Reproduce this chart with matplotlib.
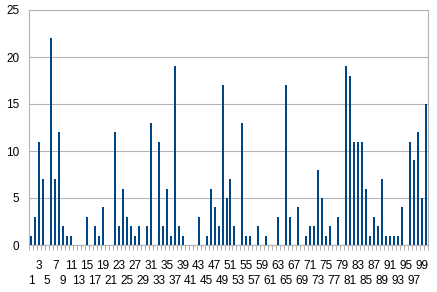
import matplotlib
matplotlib.use("Agg")
import matplotlib.pyplot as plt
import numpy as np

categories = list(range(1, 101))
values = [
    1, 3, 11, 7, 0, 22, 7, 12, 2, 1,        # 1-10
    1, 0, 0, 0, 3, 0, 2, 1, 4, 0,           # 11-20
    0, 12, 2, 6, 3, 2, 1, 2, 0, 2,          # 21-30
    13, 0, 11, 2, 6, 1, 19, 2, 1, 0,        # 31-40
    0, 0, 3, 0, 1, 6, 4, 2, 17, 5,          # 41-50
    7, 2, 0, 13, 1, 1, 0, 2, 0, 1,          # 51-60
    0, 0, 3, 0, 17, 3, 0, 4, 0, 1,          # 61-70
    2, 2, 8, 5, 1, 2, 0, 3, 0, 19,          # 71-80
    18, 11, 11, 11, 6, 1, 3, 2, 7, 1,       # 81-90
    1, 1, 1, 4, 0, 11, 9, 12, 5, 15,        # 91-100
]
x_labels = [str(c) if c % 2 == 1 else '' for c in categories]
y_ticks = [0, 5, 10, 15, 20, 25]

plt.rcParams['font.family'] = ['Liberation Sans', 'DejaVu Sans']
W, H = 437, 292
fig = plt.figure(figsize=(W / 100, H / 100), dpi=100)
ax = fig.add_axes([29.3 / W, 1 - 245 / H, (427.7 - 29.3) / W, (245 - 10) / H])

grid_c = '#b3b3b3'
ax.bar(categories, values, width=0.5, color='#004586', linewidth=0,
       antialiased=False, zorder=3)
ax.set_xlim(0.5, len(categories) + 0.5)
ax.set_ylim(y_ticks[0], y_ticks[-1])
ax.set_yticks(y_ticks)
ax.set_yticklabels([str(v) for v in y_ticks], fontsize=8.5)
ax.tick_params(axis='y', length=0, pad=7)
ax.yaxis.grid(True, color=grid_c, lw=0.8, zorder=0)

for s in ax.spines.values():
    s.set_color(grid_c)
    s.set_linewidth(0.8)

# category boundary ticks
ax.set_xticks(np.arange(0.5, len(categories) + 1, 1.0))
ax.set_xticklabels([])
ax.tick_params(axis='x', length=3.5, width=0.7, color=grid_c, direction='out')

xt = ax.get_xaxis_transform()
for c, lab in zip(categories, x_labels):
    if not lab:
        continue
    yy = -0.090 if c % 4 == 3 else -0.153
    ax.text(c, yy, lab, transform=xt, ha='center', va='center', fontsize=8.5)

fig.savefig('out.png', dpi=100)
